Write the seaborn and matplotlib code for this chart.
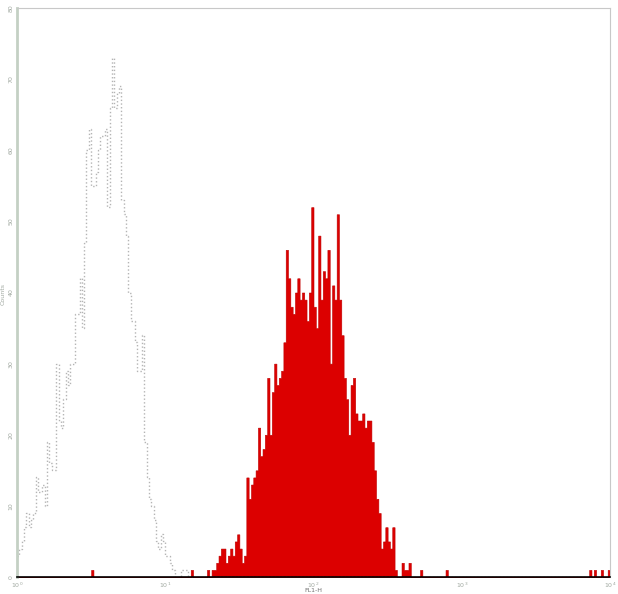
import numpy as np
import pandas as pd
import matplotlib
matplotlib.use("Agg")
import matplotlib.pyplot as plt
import seaborn as sns

# ---- data (channel index 0..255 on a 4-decade log scale) ----
decade_labels = ["$10^0$", "$10^1$", "$10^2$", "$10^3$", "$10^4$"]
y_tick_values = [0, 10, 20, 30, 40, 50, 60, 70, 80]

# stained sample (red, filled)
red_start = 75
red_counts = [1, 0, 0, 0, 0, 0, 0, 1, 0, 1, 1, 2, 3, 4, 4, 2, 3, 4, 3, 5,
              6, 4, 2, 3, 14, 11, 13, 14, 15, 21, 17, 18, 20, 28, 20, 26, 30, 27, 28, 29,
              33, 46, 42, 38, 37, 40, 42, 39, 40, 39, 36, 40, 52, 38, 35, 48, 39, 43, 42, 46,
              30, 41, 39, 51, 39, 34, 28, 25, 20, 27, 28, 23, 22, 22, 23, 21, 22, 22, 19, 15,
              11, 9, 4, 5, 7, 5, 4, 7, 1, 0, 0, 2, 1, 1, 2, 0, 0, 0, 0, 1]
red_extra_channels = [32, 185, 247, 249, 252, 255]
red_extra_counts = [1, 1, 1, 1, 1, 1]

# control sample (grey dotted outline)
grey_start = 0
grey_counts = [3, 4, 5, 7, 9, 7, 8, 9, 14, 12, 12, 13, 10, 19, 16, 15, 15, 30, 22, 21,
               25, 29, 27, 30, 30, 37, 37, 42, 35, 47, 60, 63, 55, 55, 57, 60, 62, 62, 63, 52,
               66, 73, 66, 68, 69, 53, 51, 48, 40, 36, 36, 33, 29, 29, 34, 19, 14, 11, 10, 8,
               5, 4, 6, 5, 3, 3, 2, 1, 0, 0, 0, 1, 1, 1, 0]

n_channels = 256

red_df = pd.DataFrame({
    "channel": list(np.arange(red_start, red_start + len(red_counts))) + red_extra_channels,
    "count": red_counts + red_extra_counts,
})
grey_df = pd.DataFrame({
    "channel": np.arange(grey_start, grey_start + len(grey_counts)),
    "count": grey_counts,
})
red_df["x"] = red_df["channel"].astype(float) + 0.5
grey_df["x"] = grey_df["channel"].astype(float) + 0.5
red_df["count"] = red_df["count"].astype(float)
grey_df["count"] = grey_df["count"].astype(float)

sns.set_style("white")
plt.rcParams["font.family"] = ["DejaVu Sans"]

fig = plt.figure(figsize=(6.18, 5.94), dpi=100)
ax = fig.add_axes([17 / 618, 17 / 594, 593 / 618, 569 / 594])

sns.histplot(data=grey_df, x="x", weights="count", bins=n_channels,
             binrange=(0, n_channels), element="step",
             fill=False, color="#b4b4b4", linestyle=":", linewidth=1.0, ax=ax)
sns.histplot(data=red_df, x="x", weights="count", bins=n_channels,
             binrange=(0, n_channels), element="step",
             fill=True, color="#dc0000", edgecolor="#c00000", alpha=1.0,
             linewidth=0.4, ax=ax)

ax.set_xlim(0, n_channels)
ax.set_ylim(0, 80)

# x ticks: decades + log minor ticks
major_x = [64 * k for k in range(5)]
minor_x = [64 * k + 64 * np.log10(m) for k in range(4) for m in range(2, 10)]
ax.set_xticks(major_x)
ax.set_xticklabels(decade_labels, fontsize=4.5, color="#a0a8a0")
ax.set_xticks(minor_x, minor=True)
ax.tick_params(axis="x", which="both", direction="out", length=2, width=0.6,
               color="#b0b0b0", pad=0.5)

ax.set_yticks(y_tick_values)
ax.set_yticklabels([str(v) for v in y_tick_values], fontsize=4.5, color="#a0a8a0",
                   rotation=90, va="center")
ax.set_yticks(np.arange(0, 81, 2), minor=True)
ax.tick_params(axis="y", which="major", direction="out", length=2, width=0.6,
               color="#c0c8c0", pad=0.5)
ax.tick_params(axis="y", which="minor", direction="out", length=1.5, width=0.8,
               color="#000000")

ax.set_xlabel("")
ax.set_ylabel("")
fig.text(313 / 618, 0.5 / 594, "FL1-H", fontsize=4.5, color="#707070",
         ha="center", va="bottom")
fig.text(0.3 / 618, 300 / 594, "Counts", fontsize=4.5, color="#a0a8a0",
         ha="left", va="center", rotation=90)

for side in ["top", "right"]:
    ax.spines[side].set_color("#c8c8c8")
    ax.spines[side].set_linewidth(0.8)
ax.spines["left"].set_color("#c4d0c4")
ax.spines["left"].set_linewidth(2.0)
ax.spines["bottom"].set_color("#000000")
ax.spines["bottom"].set_linewidth(1.2)

fig.savefig("out.png", dpi=100, facecolor="white")
